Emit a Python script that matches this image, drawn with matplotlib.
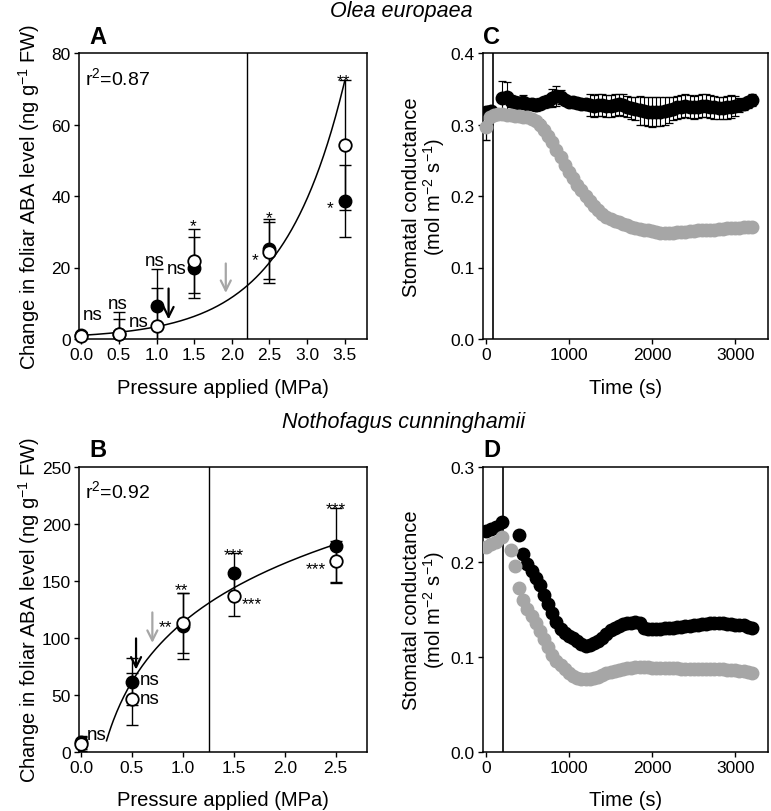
import numpy as np
import matplotlib
matplotlib.use('Agg')
from matplotlib import pyplot as plt
from matplotlib.ticker import FormatStrFormatter, MultipleLocator

plt.rcParams['font.family'] = ['Liberation Sans', 'DejaVu Sans']
plt.rcParams['mathtext.fontset'] = 'custom'
plt.rcParams['mathtext.rm'] = 'Liberation Sans'
plt.rcParams['mathtext.it'] = 'Liberation Sans:italic'
plt.rcParams['mathtext.default'] = 'regular'

# ---- Panel A : Olea europaea, ABA vs pressure ----
a_press = [0.0, 0.5, 1.0, 1.5, 2.5, 3.5]
a_closed = [1.0, 1.5, 9.3, 20.0, 25.2, 38.7]
a_closed_err = [1.0, 4.0, 10.3, 8.6, 8.4, 10.1]
a_open = [0.7, 1.5, 3.7, 21.9, 24.2, 54.3]
a_open_err = [1.0, 6.0, 10.5, 8.9, 8.4, 18.2]
a_fit_a, a_fit_b = 1.02, 1.217          # y = a*exp(b*x)
a_vline = 2.2
a_notes = [(0.15, 7.0, 'ns'), (0.48, 10.1, 'ns'), (0.76, 4.9, 'ns'),
           (0.98, 22.1, 'ns'), (1.27, 19.9, 'ns'), (1.49, 33.1, '*'),
           (2.50, 35.4, '*'), (2.31, 23.8, '*'), (3.49, 73.8, '**'),
           (3.31, 38.2, '*')]

# ---- Panel B : Nothofagus cunninghamii, ABA vs pressure ----
b_press = [0.0, 0.5, 1.0, 1.5, 2.5]
b_closed = [8.2, 61.4, 110.5, 156.5, 180.7]
b_closed_err = [6.0, 20.5, 29.0, 17.5, 32.8]
b_open = [6.8, 46.2, 112.9, 136.8, 167.0]
b_open_err = [6.0, 23.2, 26.0, 18.0, 18.0]
b_fit_a, b_fit_b = 113.4, 74.9          # y = a + b*ln(x)
b_vline = 1.26
b_notes = [(0.154, 15.5, 'ns'), (0.675, 63.8, 'ns'), (0.675, 47.0, 'ns'),
           (0.99, 147.0, '**'), (0.825, 114.0, '**'), (1.50, 177.8, '***'),
           (1.68, 134.5, '***'), (2.50, 217.9, '***'), (2.30, 165.2, '***')]

# ---- Panel C : Olea europaea, stomatal conductance ----
c_t_ctrl_pre = [0, 30, 60]
c_gs_ctrl_pre = [0.318, 0.318, 0.319]
c_t_ctrl = np.arange(200, 3201, 50)
c_gs_ctrl = [0.337, 0.338, 0.333, 0.331, 0.330, 0.331, 0.329, 0.328, 0.327, 0.329,
             0.331, 0.333, 0.337, 0.340, 0.338, 0.334, 0.332, 0.331, 0.330, 0.329,
             0.328, 0.327, 0.326, 0.327, 0.327, 0.326, 0.326, 0.327, 0.328, 0.327,
             0.325, 0.323, 0.322, 0.320, 0.319, 0.318, 0.317, 0.318, 0.318, 0.319,
             0.320, 0.322, 0.324, 0.325, 0.326, 0.325, 0.324, 0.325, 0.326, 0.326,
             0.325, 0.324, 0.323, 0.323, 0.324, 0.325, 0.326, 0.327, 0.328, 0.331,
             0.334]
c_err_ctrl = [0.024, 0.022, 0.008, 0.008, 0.008, 0.010, 0.008, 0.008, 0.008, 0.008,
              0.008, 0.008, 0.012, 0.014, 0.010, 0.006, 0.006, 0.006, 0.006, 0.006,
              0.008, 0.015, 0.015, 0.015, 0.015, 0.015, 0.015, 0.015, 0.015, 0.015,
              0.015, 0.015, 0.016, 0.020, 0.020, 0.020, 0.021, 0.020, 0.020, 0.020,
              0.018, 0.016, 0.016, 0.016, 0.016, 0.016, 0.016, 0.016, 0.016, 0.016,
              0.016, 0.016, 0.016, 0.016, 0.016, 0.016, 0.014, 0.010, 0.008, 0.008,
              0.008]
c_t_trt = np.arange(0, 3201, 50)
c_gs_trt = [0.296, 0.310, 0.313, 0.314, 0.314, 0.313, 0.313, 0.312, 0.312, 0.311,
            0.310, 0.308, 0.305, 0.300, 0.293, 0.284, 0.275, 0.265, 0.254, 0.244,
            0.234, 0.225, 0.216, 0.208, 0.200, 0.193, 0.186, 0.180, 0.175, 0.171,
            0.168, 0.165, 0.163, 0.161, 0.159, 0.157, 0.155, 0.154, 0.153, 0.152,
            0.151, 0.149, 0.148, 0.148, 0.148, 0.148, 0.149, 0.150, 0.150, 0.151,
            0.151, 0.152, 0.152, 0.153, 0.153, 0.153, 0.154, 0.154, 0.155, 0.155,
            0.155, 0.155, 0.156, 0.156, 0.156]
c_vline = 85

# ---- Panel D : Nothofagus cunninghamii, stomatal conductance ----
d_t_ctrl = [0, 60, 120, 200] + list(range(400, 3201, 50))
d_gs_ctrl = [0.232, 0.234, 0.237, 0.242,
             0.228, 0.208, 0.198, 0.190, 0.183, 0.175, 0.165, 0.155, 0.146, 0.137,
             0.129, 0.125, 0.122, 0.120, 0.117, 0.113, 0.111, 0.112, 0.114, 0.117,
             0.120, 0.124, 0.128, 0.130, 0.132, 0.134, 0.135, 0.136, 0.137, 0.135,
             0.130, 0.129, 0.129, 0.129, 0.129, 0.130, 0.130, 0.130, 0.131, 0.131,
             0.132, 0.132, 0.133, 0.133, 0.134, 0.134, 0.135, 0.135, 0.135, 0.135,
             0.134, 0.134, 0.133, 0.133, 0.133, 0.131, 0.130]
d_t_trt = [0, 60, 120, 200] + list(range(300, 3201, 50))
d_gs_trt = [0.215, 0.219, 0.221, 0.226,
            0.212, 0.195, 0.172, 0.160, 0.150, 0.143, 0.135, 0.127, 0.119, 0.110,
            0.102, 0.096, 0.091, 0.087, 0.083, 0.080, 0.078, 0.077, 0.077, 0.077,
            0.078, 0.079, 0.081, 0.083, 0.084, 0.085, 0.086, 0.087, 0.088, 0.088,
            0.089, 0.089, 0.089, 0.089, 0.088, 0.088, 0.088, 0.088, 0.088, 0.088,
            0.088, 0.087, 0.087, 0.087, 0.087, 0.087, 0.087, 0.087, 0.087, 0.087,
            0.087, 0.087, 0.086, 0.086, 0.086, 0.085, 0.085, 0.084, 0.083]
d_vline = 210

GREY = '#a6a6a6'
FS_TICK = 12.5
FS_LAB = 14.5
MS_TS = 9
W, H = 771, 812

fig = plt.figure(figsize=(7.71, 8.12), dpi=100)


def box(left, top, right, bottom):
    return [left / W, 1 - bottom / H, (right - left) / W, (bottom - top) / H]


axA = fig.add_axes(box(79, 54, 367.3, 340))
axC = fig.add_axes(box(483.3, 54, 767.7, 340))
axB = fig.add_axes(box(79, 467.7, 367.3, 752.7))
axD = fig.add_axes(box(483.3, 467.7, 767.7, 752.7))

for ax in (axA, axB, axC, axD):
    for s in ax.spines.values():
        s.set_linewidth(1.1)
    ax.tick_params(direction='out', length=3.5, width=1.0, labelsize=FS_TICK,
                   top=False, right=False)
    ax.tick_params(axis='x', pad=2.5)
    ax.tick_params(axis='y', pad=2.5)


def note(ax, x, y, s):
    # place text so that the visible glyphs are centred on (x, y)
    dy = -7.0 if '*' in s else -3.4
    ax.annotate(s, (x, y), xytext=(0, dy), textcoords='offset points',
                ha='center', va='baseline', fontsize=13.5 if s == 'ns' else 12.5)


def aba_panel(ax, press, closed, cerr, opn, oerr, xfit, yfit, vline, notes, r2):
    ax.plot(xfit, yfit, color='k', lw=1.1, zorder=2)
    ax.axvline(vline, color='k', lw=1.0, zorder=1)
    ax.errorbar(press, closed, yerr=cerr, fmt='none', ecolor='k',
                elinewidth=1.0, capsize=4, capthick=1.0, zorder=3)
    ax.plot(press, closed, 'o', ms=9, mfc='k', mec='k', zorder=3, clip_on=False)
    ax.errorbar(press, opn, yerr=oerr, fmt='none', ecolor='k',
                elinewidth=1.0, capsize=4, capthick=1.0, zorder=4)
    ax.plot(press, opn, 'o', ms=9, mfc='white', mec='k', mew=1.3, zorder=4,
            clip_on=False)
    for x, y, s in notes:
        note(ax, x, y, s)
    ax.text(0.021, 0.955, r2, transform=ax.transAxes, ha='left', va='top',
            fontsize=14)
    ax.set_xlabel('Pressure applied (MPa)', fontsize=FS_LAB)
    ax.set_ylabel('Change in foliar ABA level (ng g$^{-1}$ FW)', fontsize=FS_LAB)
    ax.xaxis.set_major_formatter(FormatStrFormatter('%.1f'))
    ax.xaxis.set_label_coords(0.5, -0.135)
    ax.yaxis.set_label_coords(-0.127, 0.5)


# Panel A
xa = np.linspace(0, 3.5, 200)
aba_panel(axA, a_press, a_closed, a_closed_err, a_open, a_open_err,
          xa, a_fit_a * np.exp(a_fit_b * xa), a_vline, a_notes, 'r$^2$=0.87')
axA.set_xlim(-0.03, 3.8)
axA.set_ylim(0, 80)
axA.xaxis.set_major_locator(MultipleLocator(0.5))
axA.yaxis.set_major_locator(MultipleLocator(20))
axA.annotate('', xy=(1.16, 4.7), xytext=(1.16, 14.9),
             arrowprops=dict(arrowstyle='->', color='k', lw=1.6, mutation_scale=18))
axA.annotate('', xy=(1.92, 12.1), xytext=(1.92, 21.9),
             arrowprops=dict(arrowstyle='->', color=GREY, lw=1.6, mutation_scale=18))

# Panel B
xb = np.linspace(0.25, 2.5, 200)
aba_panel(axB, b_press, b_closed, b_closed_err, b_open, b_open_err,
          xb, b_fit_a + b_fit_b * np.log(xb), b_vline, b_notes, 'r$^2$=0.92')
axB.set_xlim(-0.02, 2.81)
axB.set_ylim(0, 250)
axB.xaxis.set_major_locator(MultipleLocator(0.5))
axB.yaxis.set_major_locator(MultipleLocator(50))
axB.annotate('', xy=(0.54, 69.6), xytext=(0.54, 101.8),
             arrowprops=dict(arrowstyle='->', color='k', lw=1.6, mutation_scale=18))
axB.annotate('', xy=(0.70, 93.0), xytext=(0.70, 124.6),
             arrowprops=dict(arrowstyle='->', color=GREY, lw=1.6, mutation_scale=18))


def gs_panel(ax, vline, ylim):
    ax.axvline(vline, color='k', lw=1.2, zorder=1)
    ax.set_xlim(-30, 3390)
    ax.set_ylim(*ylim)
    ax.xaxis.set_major_locator(MultipleLocator(1000))
    ax.yaxis.set_major_locator(MultipleLocator(0.1))
    ax.yaxis.set_major_formatter(FormatStrFormatter('%.1f'))
    ax.set_xlabel('Time (s)', fontsize=FS_LAB)
    ax.set_ylabel('Stomatal conductance\n(mol m$^{-2}$ s$^{-1}$)', fontsize=FS_LAB,
                  linespacing=1.0)
    ax.xaxis.set_label_coords(0.5, -0.135)
    ax.yaxis.set_label_coords(-0.129, 0.5)


# Panel C
gs_panel(axC, c_vline, (0, 0.4))
axC.errorbar(c_t_ctrl_pre, c_gs_ctrl_pre, yerr=[[0.04, 0, 0], [0, 0, 0]],
             fmt='none', ecolor='k', elinewidth=0.9, capsize=3, zorder=2)
axC.errorbar(c_t_ctrl, c_gs_ctrl, yerr=c_err_ctrl, fmt='none', ecolor='k',
             elinewidth=0.8, capsize=3, capthick=0.9, zorder=2)
axC.plot(c_t_ctrl_pre, c_gs_ctrl_pre, 'o', color='k', ms=MS_TS, zorder=3)
axC.plot(c_t_ctrl, c_gs_ctrl, 'o', color='k', ms=MS_TS, zorder=3)
axC.errorbar(c_t_trt, c_gs_trt, yerr=0.007, fmt='none', ecolor='k',
             elinewidth=0.6, capsize=2, capthick=0.8, zorder=4)
axC.plot(c_t_trt, c_gs_trt, 'o', color=GREY, ms=MS_TS, zorder=5, clip_on=False)

# Panel D
gs_panel(axD, d_vline, (0, 0.3))
axD.plot(d_t_ctrl, d_gs_ctrl, 'o', color='k', ms=MS_TS, zorder=3)
axD.plot(d_t_trt, d_gs_trt, 'o', color=GREY, ms=MS_TS, zorder=4)

# Panel letters and species titles
for lab, x, y in [('A', 98, 38), ('C', 492, 38), ('B', 98, 451), ('D', 492, 451)]:
    fig.text(x / W, 1 - y / H, lab, ha='center', va='center', fontsize=17,
             fontweight='bold')
fig.text(401 / W, 1 - 12 / H, 'Olea europaea', ha='center', va='center',
         fontsize=15.5, style='italic')
fig.text(404 / W, 1 - 423 / H, 'Nothofagus cunninghamii', ha='center',
         va='center', fontsize=15.5, style='italic')

plt.savefig('out.png', dpi=100)
